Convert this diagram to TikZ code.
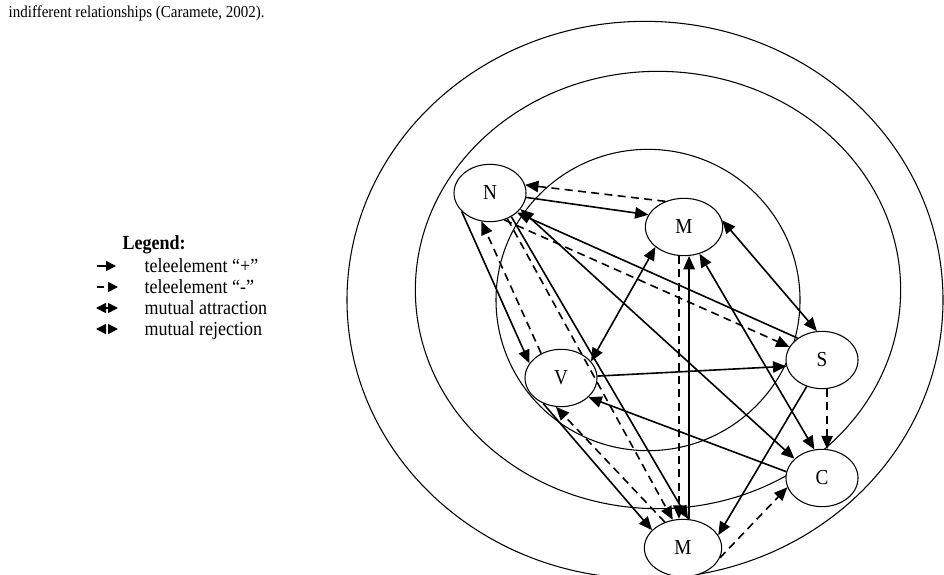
\documentclass[tikz,border=0pt]{standalone}
\usepackage{fontspec}
\setmainfont{Liberation Serif}[FakeStretch=0.9]
\usetikzlibrary{
	shapes.geometric,
	positioning,
	arrows.meta
}

\begin{document}
\begin{tikzpicture}[x=0.75pt,y=-0.75pt,
		font=\fontsize{15}{18}\selectfont,
		elem/.style={ellipse,draw,fill=white,line width=0.8pt,minimum width=54pt,minimum height=43pt,inner sep=0pt,font=\fontsize{16}{18}\selectfont},
		ring/.style={line width=0.8pt},
		plus/.style={line width=1.2pt,-{Triangle[length=10pt,width=8.5pt]}},
		minus/.style={plus,dash pattern=on 6pt off 4pt},
		both/.style={line width=1.2pt,{Triangle[length=10pt,width=8.5pt]}-{Triangle[length=10pt,width=8.5pt]}},
		keyline/.style={line width=1.2pt,-{Triangle[length=7.5pt,width=7.5pt]}}
	]
		\useasboundingbox (0,0) rectangle (944,574);

		\node[anchor=base west,font=\fontsize{12.5}{15}\selectfont] (cap) at (4,18) {indifferent relationships (Caramete, 2002).};

		\draw[ring] (645,300) ellipse [x radius=223.5pt, y radius=209pt];
		\draw[ring] (658,290) ellipse [x radius=182pt, y radius=164pt];
		\draw[ring] (648,300) ellipse [x radius=114pt, y radius=113pt];

		\node[elem] (N) at (490,193) {N};
		\node[elem,minimum width=58pt] (M1) at (684,227) {M};
		\node[elem] (V) at (561,378) {V};
		\node[elem] (S) at (822,360) {S};
		\node[elem] (C) at (822,478) {C};
		\node[elem,minimum width=58pt] (M2) at (683,548) {M};

		\draw[minus] (M1.126) -- (N.13);
		\draw[plus] (N.-7) -- (M1.161);
		\draw[plus] (N.213) -- (V.155);
		\draw[minus] (V.129) -- (N.253);
		\draw[both] (V.29) -- (M1.215);
		\draw[minus] (N.-62) -- (S.158);
		\draw[plus] (S.138) -- (N.-36);
		\draw[plus] (N.-48) -- (M2.80);
		\draw[minus] (N.-56) -- (M2.110);
		\draw[both] (N.-28) -- (C.145);
		\draw[plus] (C.170) -- (V.-35);
		\draw[plus] (V.3) -- (S.190);
		\draw[plus] (V.-125) -- (M2.150);
		\draw[minus] (M2.125) -- (V.-100);
		\draw[both] (M1.10) -- (S.100);
		\draw[both] (M1.-60) -- (C.105);
		\draw[minus] (S.-80) -- (C.80);
		\draw[plus] (S.-120) -- (M2.20);
		\draw[minus] (M2.-15) -- (C.195);
		\draw[minus] (M1.-100) -- (M1.-100 |- M2.north);
		\draw[plus] (M2.north -| M1.-80) -- (M1.-80);

		\node[anchor=base west,font=\fontsize{15}{18}\selectfont\bfseries] (lg) at (118,249) {Legend:};
		\node[anchor=base west] (t1) at (140,272) {teleelement “+”};
		\node[anchor=base west] (t2) at (140,293) {teleelement “-”};
		\node[anchor=base west] (t3) at (140,314) {mutual attraction};
		\node[anchor=base west] (t4) at (140,335) {mutual rejection};
		\coordinate (k1a) at (97,266);  \coordinate (k1b) at (116,266);
		\coordinate (k2a) at (97,287);  \coordinate (k2b) at (118,287);
		\coordinate (k3a) at (96,308);  \coordinate (k3b) at (118,308);
		\coordinate (k4a) at (96,329);  \coordinate (k4b) at (118,329);
		\draw[keyline] (k1a) -- (k1b);
		\draw[keyline,dash pattern=on 5pt off 3pt] (k2a) -- (k2b);
		\draw[keyline,{Triangle[length=7.5pt,width=7.5pt]}-{Triangle[length=7.5pt,width=7.5pt]}] (k3a) -- (k3b);
		\draw[keyline,dash pattern=on 0pt off 30pt,{Triangle[length=7.5pt,width=7.5pt]}-{Triangle[length=7.5pt,width=7.5pt]}] (k4a) -- (k4b);
	\end{tikzpicture}
\end{document}
